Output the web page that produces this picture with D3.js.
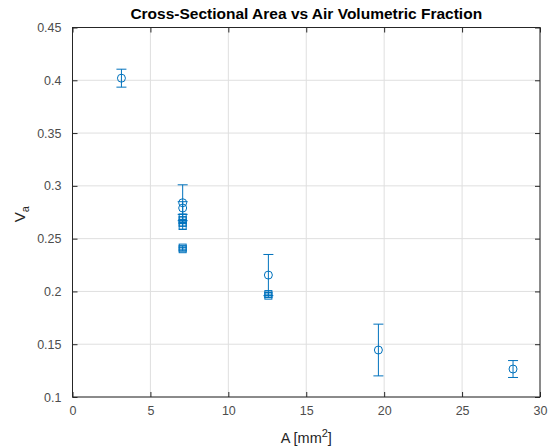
<!DOCTYPE html>
<html><head><meta charset="utf-8">
<script src="https://cdn.jsdelivr.net/npm/d3@7"></script>
<style>body{margin:0;background:#fff;} svg{display:block;}</style>
</head><body>
<svg id="c" width="548" height="448"></svg>
<script>
// Mean values (circles)
const meanArea = [3.14, 7.07, 7.07, 12.57, 19.63, 28.27];
const meanVa   = [0.402, 0.284, 0.279, 0.2155, 0.1445, 0.1265];
const meanErr  = [0.0085, 0.017, 0.006, 0.0195, 0.0245, 0.008];
// Individual values (squares)
const sqArea = [7.07, 7.07, 7.07, 7.07, 7.07, 7.07, 12.57, 12.57];
const sqVa   = [0.270, 0.2675, 0.265, 0.262, 0.2415, 0.240, 0.1975, 0.196];
const sqErr  = [0.003, 0.003, 0.003, 0.003, 0.0015, 0.0015, 0.0015, 0.0015];
const xTicks = [0, 5, 10, 15, 20, 25, 30];
const yTicks = [0.1, 0.15, 0.2, 0.25, 0.3, 0.35, 0.4, 0.45];

const col = "#0072BD", axCol = "#262626", font = "'Liberation Sans', Arial, sans-serif";
const L = 72.5, R = 540, T = 27.5, B = 397;
const svg = d3.select("#c");
const x = d3.scaleLinear().domain([0, 30]).range([L, R]);
const y = d3.scaleLinear().domain([0.1, 0.45]).range([B, T]);

// grid
svg.append("g").selectAll("line").data(xTicks).join("line")
  .attr("x1", d => x(d)).attr("x2", d => x(d)).attr("y1", T).attr("y2", B)
  .attr("stroke", "#dfdfdf").attr("stroke-width", 1);
svg.append("g").selectAll("line").data(yTicks).join("line")
  .attr("y1", d => y(d)).attr("y2", d => y(d)).attr("x1", L).attr("x2", R)
  .attr("stroke", "#dfdfdf").attr("stroke-width", 1);

// axes
const fmtY = d => String(+d.toFixed(2));
const gx = svg.append("g").attr("transform", `translate(0,${B})`)
  .call(d3.axisBottom(x).tickValues(xTicks).tickSize(-5).tickPadding(9).tickFormat(d3.format("d")));
const gxT = svg.append("g").attr("transform", `translate(0,${T})`)
  .call(d3.axisTop(x).tickValues(xTicks).tickSize(-5).tickFormat(""));
const gy = svg.append("g").attr("transform", `translate(${L},0)`)
  .call(d3.axisLeft(y).tickValues(yTicks).tickSize(-5).tickPadding(11).tickFormat(fmtY));
const gyR = svg.append("g").attr("transform", `translate(${R},0)`)
  .call(d3.axisRight(y).tickValues(yTicks).tickSize(-5).tickFormat(""));
[gx, gxT, gy, gyR].forEach(g => {
  g.selectAll("path").remove();
  g.selectAll("line").attr("stroke", axCol);
  g.selectAll("text").attr("fill", "#4d4d4d").style("font-family", font).style("font-size", "12.5px");
});
svg.append("rect").attr("x", L).attr("y", T).attr("width", R - L).attr("height", B - T)
  .attr("fill", "none").attr("stroke", axCol).attr("stroke-width", 1);

// error bars helper
function errBars(g, xs, ys, es, cap) {
  const idx = d3.range(xs.length);
  g.selectAll(null).data(idx).join("line")
    .attr("x1", i => x(xs[i])).attr("x2", i => x(xs[i]))
    .attr("y1", i => y(ys[i] + es[i])).attr("y2", i => y(ys[i] - es[i]))
    .attr("stroke", col).attr("stroke-width", 1);
  [1, -1].forEach(s => {
    g.selectAll(null).data(idx).join("line")
      .attr("x1", i => x(xs[i]) - cap).attr("x2", i => x(xs[i]) + cap)
      .attr("y1", i => y(ys[i] + s * es[i])).attr("y2", i => y(ys[i] + s * es[i]))
      .attr("stroke", col).attr("stroke-width", 1);
  });
}
const gm = svg.append("g");
errBars(gm, meanArea, meanVa, meanErr, 5);
gm.selectAll("circle").data(d3.range(meanArea.length)).join("circle")
  .attr("cx", i => x(meanArea[i])).attr("cy", i => y(meanVa[i])).attr("r", 4)
  .attr("fill", "none").attr("stroke", col).attr("stroke-width", 1);

const gs = svg.append("g");
errBars(gs, sqArea, sqVa, sqErr, 4);
gs.selectAll("rect").data(d3.range(sqArea.length)).join("rect")
  .attr("x", i => x(sqArea[i]) - 3.5).attr("y", i => y(sqVa[i]) - 3.5)
  .attr("width", 7).attr("height", 7)
  .attr("fill", "none").attr("stroke", col).attr("stroke-width", 1);

// title & labels
svg.append("text").attr("x", (L + R) / 2).attr("y", 19).attr("text-anchor", "middle")
  .style("font-family", font).style("font-size", "15.5px").style("font-weight", "bold").attr("fill", "#000")
  .text("Cross-Sectional Area vs Air Volumetric Fraction");
const xl = svg.append("text").attr("x", (L + R) / 2).attr("y", 443).attr("text-anchor", "middle")
  .style("font-family", font).style("font-size", "14.5px").attr("fill", "#262626");
xl.append("tspan").text("A [mm");
xl.append("tspan").attr("dy", -6).style("font-size", "11px").text("2");
xl.append("tspan").attr("dy", 6).text("]");
const yl = svg.append("text").attr("transform", `translate(25,${(T + B) / 2 + 2}) rotate(-90)`).attr("text-anchor", "middle")
  .style("font-family", font).style("font-size", "15px").attr("fill", "#262626");
yl.append("tspan").text("V");
yl.append("tspan").attr("dy", 4).style("font-size", "11px").text("a");
</script>
</body></html>
